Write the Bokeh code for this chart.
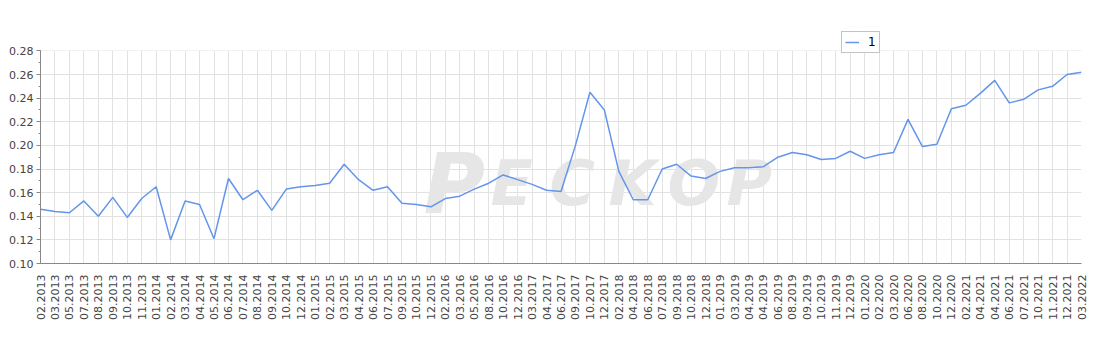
import math
from bokeh.plotting import figure
from bokeh.models import (Range1d, FixedTicker, SingleIntervalTicker, NumeralTickFormatter,
                          Legend, LegendItem, Label, BoxAnnotation)
from bokeh.embed import file_html
from bokeh.resources import INLINE

dates = ["02.2013", "03.2013", "05.2013", "07.2013", "08.2013", "09.2013", "10.2013", "11.2013",
         "01.2014", "02.2014", "03.2014", "04.2014", "05.2014", "06.2014", "07.2014", "08.2014",
         "09.2014", "10.2014", "12.2014", "01.2015", "02.2015", "03.2015", "04.2015", "06.2015",
         "07.2015", "09.2015", "10.2015", "12.2015", "02.2016", "03.2016", "05.2016", "08.2016",
         "10.2016", "12.2016", "03.2017", "04.2017", "06.2017", "09.2017", "10.2017", "12.2017",
         "02.2018", "04.2018", "06.2018", "07.2018", "09.2018", "10.2018", "12.2018", "01.2019",
         "03.2019", "04.2019", "04.2019", "06.2019", "08.2019", "09.2019", "10.2019", "11.2019",
         "12.2019", "01.2020", "02.2020", "03.2020", "06.2020", "08.2020", "10.2020", "12.2020",
         "02.2021", "04.2021", "04.2021", "06.2021", "07.2021", "10.2021", "11.2021", "12.2021",
         "03.2022"]

series_1 = [0.146, 0.144, 0.143, 0.153, 0.140, 0.156, 0.139, 0.155,
            0.165, 0.120, 0.153, 0.150, 0.121, 0.172, 0.154, 0.162,
            0.145, 0.163, 0.165, 0.166, 0.168, 0.184, 0.171, 0.162,
            0.165, 0.151, 0.150, 0.148, 0.155, 0.157, 0.163, 0.168,
            0.175, 0.171, 0.167, 0.162, 0.161, 0.200, 0.245, 0.230,
            0.178, 0.154, 0.154, 0.180, 0.184, 0.174, 0.172, 0.178,
            0.181, 0.181, 0.182, 0.190, 0.194, 0.192, 0.188, 0.189,
            0.195, 0.189, 0.192, 0.194, 0.222, 0.199, 0.201, 0.231,
            0.234, 0.244, 0.255, 0.236, 0.239, 0.247, 0.250, 0.260,
            0.262]

y_min, y_max = 0.10, 0.28
y_ticks_interval = 0.02
series_name = "1"

x = list(range(len(dates)))

W, H = 1100, 350
border_top, border_bottom = 26, 87
frame_h = H - border_top - border_bottom
# frame extends a little above y_max so the legend (which overlaps the top edge) is not clipped
y_top = y_min + (y_max - y_min) * frame_h / 212.6

p = figure(width=W, height=H, output_backend="svg", toolbar_location=None,
           x_range=Range1d(0, len(dates) - 1), y_range=Range1d(y_min, y_top),
           min_border_left=40, min_border_right=19, min_border_top=border_top,
           min_border_bottom=border_bottom,
           background_fill_color="white", border_fill_color="white")
p.outline_line_color = None

FONT = "DejaVu Sans"

# axes
p.xaxis.ticker = FixedTicker(ticks=x)
p.xaxis.major_label_overrides = {i: d for i, d in zip(x, dates)}
p.xaxis.major_label_orientation = math.pi / 2
p.xaxis.major_tick_out = 0
p.xaxis.major_tick_in = 0
p.xaxis.minor_tick_out = 0
p.xaxis.major_label_standoff = 11

p.yaxis.ticker = SingleIntervalTicker(interval=y_ticks_interval, num_minor_ticks=2)
p.yaxis.formatter = NumeralTickFormatter(format="0.00")
p.yaxis.bounds = (y_min, y_max)
p.yaxis.major_tick_out = 4
p.yaxis.major_tick_in = 0
p.yaxis.minor_tick_out = 2
p.yaxis.minor_tick_in = 0
p.yaxis.major_label_standoff = 3

for ax in (p.xaxis[0], p.yaxis[0]):
    ax.axis_line_color = "#888888"
    ax.major_tick_line_color = "#888888"
    ax.minor_tick_line_color = "#888888"
    ax.major_label_text_font = FONT
    ax.major_label_text_font_size = "11px"
    ax.major_label_text_color = "#444444"

p.xgrid.grid_line_color = "#e2e2e2"
p.ygrid.grid_line_color = "#e2e2e2"
p.xgrid.ticker = FixedTicker(ticks=x)

# blank strip above the top gridline
mask = BoxAnnotation(bottom=y_max + 0.0003, fill_color="white", fill_alpha=1.0,
                     line_alpha=0, level="underlay")
p.add_layout(mask)

# watermark
wm_color = "#e6e6e6"
big = Label(x=383, y=80, x_units="screen", y_units="screen", text="P",
            text_font=FONT, text_font_size="84px", text_font_style="bold italic",
            text_baseline="alphabetic",
            text_color=wm_color, level="underlay")
p.add_layout(big)
for k, ch in enumerate("ECKOP"):
    lab = Label(x=450 + k * 59, y=80, x_units="screen", y_units="screen", text=ch,
                text_font=FONT, text_font_size="62px", text_font_style="bold italic",
                text_baseline="alphabetic",
                text_color=wm_color, level="underlay")
    p.add_layout(lab)

r = p.line(x, series_1, line_color="#6495ed", line_width=1.5)

legend = Legend(items=[LegendItem(label=series_name, renderers=[r])],
                location=(801, 210), orientation="horizontal",
                border_line_color="#888888", border_line_width=1,
                padding=3, margin=0, spacing=0,
                glyph_width=14, glyph_height=8, label_height=8, label_width=8,
                label_standoff=9, label_text_font=FONT, label_text_font_size="12px",
                label_text_color="black", background_fill_alpha=1.0)
p.add_layout(legend, "center")

open("out.html", "w").write(file_html(p, INLINE))
